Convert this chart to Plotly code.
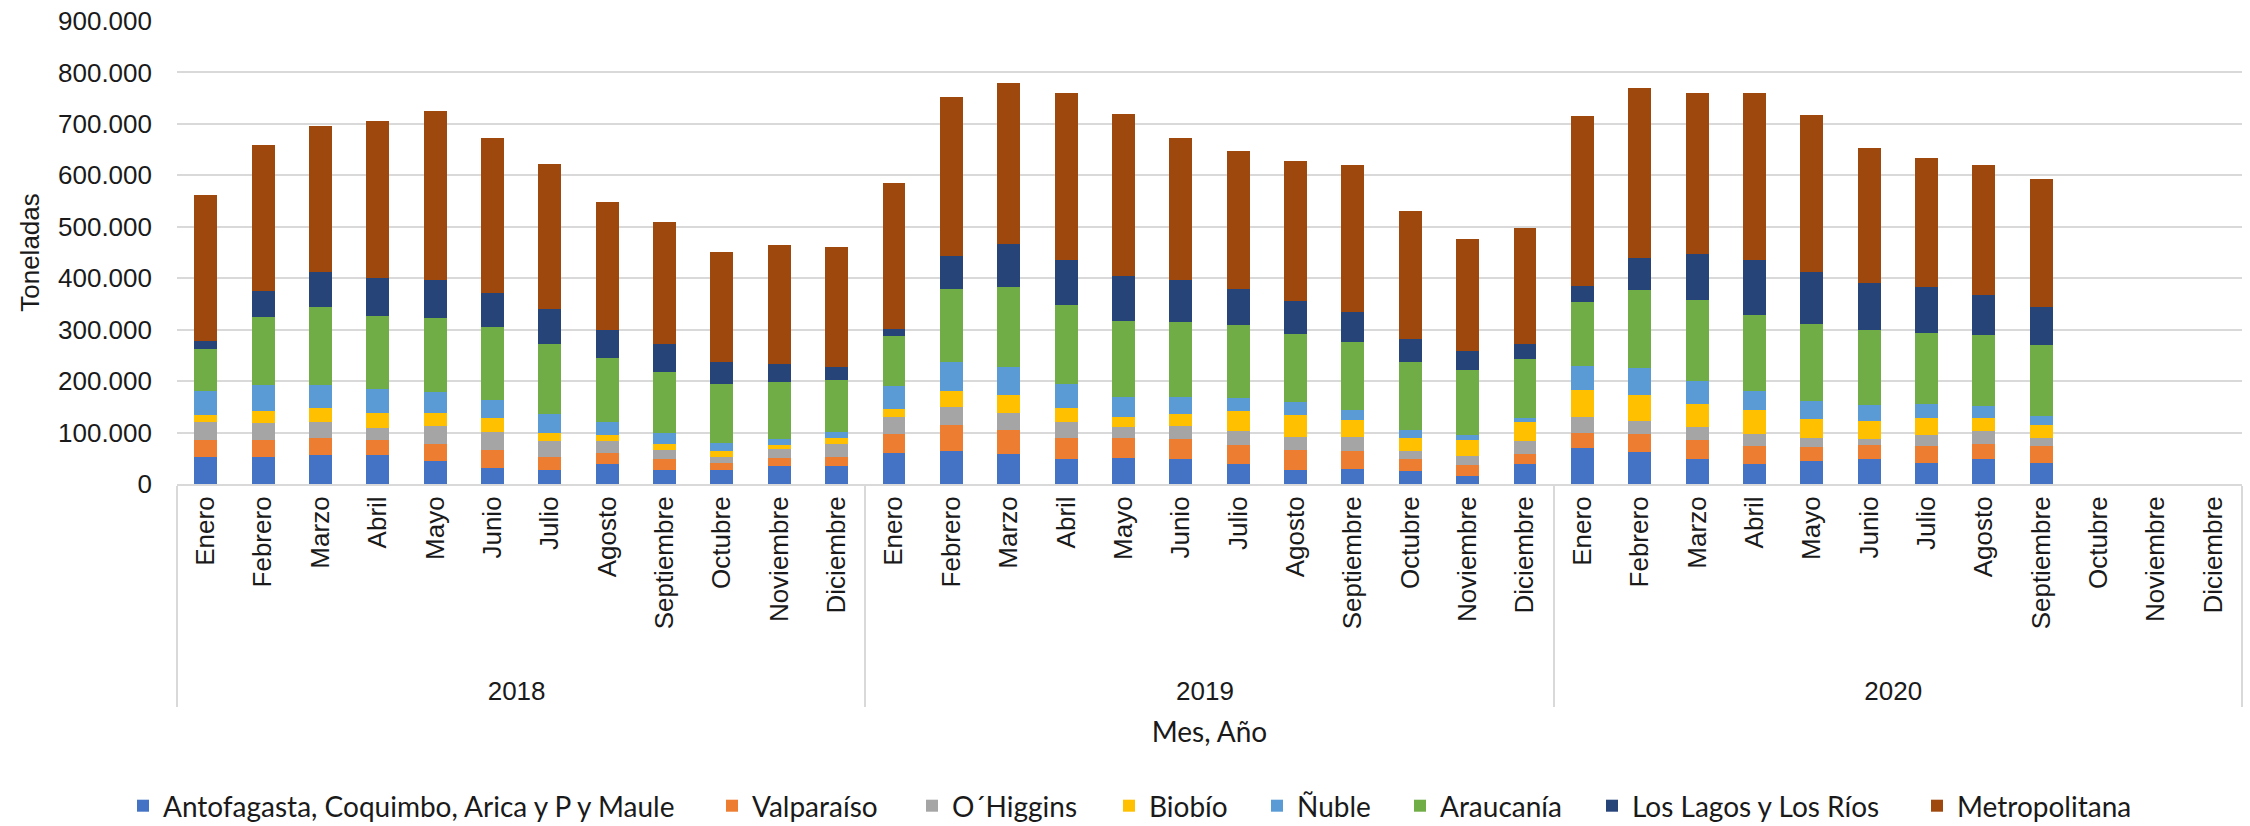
import plotly.graph_objects as go

years = ["2018"] * 12 + ["2019"] * 12 + ["2020"] * 12
months = ["Enero", "Febrero", "Marzo", "Abril", "Mayo", "Junio", "Julio", "Agosto",
          "Septiembre", "Octubre", "Noviembre", "Diciembre"] * 3

antofagasta = [53000, 53000, 56000, 56000, 45000, 32000, 28000, 38000, 28000, 28000, 35000, 35000,
               60000, 65000, 58000, 48000, 51000, 48000, 38000, 28000, 30000, 25000, 16000, 38000,
               70000, 63000, 48000, 38000, 45000, 48000, 40000, 48000, 40000, None, None, None]
valparaiso = [33000, 33000, 34000, 30000, 33000, 35000, 25000, 22000, 20000, 12000, 16000, 18000,
              38000, 50000, 47000, 42000, 39000, 40000, 37000, 38000, 35000, 23000, 20000, 20000,
              30000, 35000, 38000, 35000, 27000, 27000, 33000, 30000, 33000, None, None, None]
ohiggins = [34000, 32000, 30000, 22000, 35000, 35000, 30000, 23000, 19000, 13000, 17000, 25000,
            32000, 35000, 33000, 30000, 20000, 25000, 28000, 25000, 27000, 17000, 19000, 25000,
            30000, 25000, 24000, 25000, 17000, 12000, 22000, 25000, 17000, None, None, None]
biobio = [15000, 23000, 28000, 30000, 25000, 26000, 17000, 12000, 11000, 12000, 8000, 12000,
          15000, 30000, 35000, 28000, 20000, 23000, 38000, 43000, 32000, 25000, 31000, 37000,
          53000, 50000, 45000, 45000, 38000, 35000, 33000, 25000, 25000, None, None, None]
nuble = [45000, 52000, 44000, 47000, 40000, 35000, 36000, 25000, 22000, 15000, 12000, 12000,
         45000, 57000, 55000, 47000, 40000, 34000, 27000, 25000, 20000, 15000, 10000, 8000,
         47000, 52000, 45000, 37000, 35000, 32000, 27000, 23000, 18000, None, None, None]
araucania = [82000, 132000, 152000, 142000, 144000, 142000, 137000, 125000, 117000, 115000, 110000, 100000,
             97000, 142000, 154000, 152000, 147000, 145000, 142000, 132000, 132000, 132000, 125000, 115000,
             124000, 152000, 157000, 149000, 149000, 145000, 139000, 139000, 137000, None, None, None]
los_lagos = [16000, 50000, 68000, 74000, 75000, 67000, 67000, 55000, 55000, 42000, 35000, 26000,
             15000, 65000, 84000, 89000, 87000, 82000, 70000, 64000, 58000, 45000, 37000, 30000,
             31000, 62000, 90000, 107000, 102000, 92000, 88000, 77000, 74000, None, None, None]
metropolitana = [283000, 284000, 284000, 305000, 329000, 300000, 282000, 249000, 237000, 214000, 231000, 233000,
                 284000, 309000, 314000, 325000, 316000, 276000, 267000, 272000, 286000, 249000, 219000, 224000,
                 331000, 330000, 314000, 324000, 304000, 262000, 251000, 254000, 249000, None, None, None]

series_names = ["Antofagasta, Coquimbo, Arica y P y Maule", "Valparaíso", "O´Higgins", "Biobío",
                "Ñuble", "Araucanía", "Los Lagos y Los Ríos", "Metropolitana"]
series_values = [antofagasta, valparaiso, ohiggins, biobio, nuble, araucania, los_lagos, metropolitana]
colors = ["#4472C4", "#ED7D31", "#A5A5A5", "#FFC000", "#5B9BD5", "#70AD47", "#264478", "#9E480E"]

# left edge (px) of each legend entry's swatch in the 2250 px wide figure
legend_swatch_px = [136, 725, 925, 1122, 1270, 1413, 1605, 1930]

W, H = 2250, 826
arial = "Liberation Sans, Arial, sans-serif"
calibri = "Lato, Carlito, Calibri, sans-serif"
TXT = "#1a1a1a"

# invisible leading padding pushes the year row (and dividers) down like the original
month_labels = ["\u00a0\u00a0\u00a0" + m for m in months]

fig = go.Figure()
legend_layout = {}
for i, (name, vals, col) in enumerate(zip(series_names, series_values, colors)):
    lid = "legend" if i == 0 else f"legend{i + 1}"
    fig.add_trace(go.Bar(
        x=[years, month_labels], y=vals, name=name,
        marker=dict(color=col, line=dict(width=0)),
        legend=lid,
    ))
    legend_layout[lid] = dict(
        orientation="h", xref="container", yref="container",
        x=(legend_swatch_px[i] - 13) / W, xanchor="left",
        y=1 - 806 / H, yanchor="middle",
        font=dict(family=calibri, size=28, color=TXT),
        bgcolor="rgba(0,0,0,0)",
    )

fig.update_layout(
    width=W, height=H,
    barmode="stack", bargap=0.6,
    separators=",.",
    paper_bgcolor="white", plot_bgcolor="white",
    margin=dict(l=177, r=8, t=21, b=342, autoexpand=False),
    font=dict(family=arial, size=26, color=TXT),
    showlegend=True,
    xaxis=dict(
        type="multicategory", tickangle=-90, ticks="",
        tickfont=dict(family=arial, size=26, color=TXT),
        showdividers=True, dividercolor="#d9d9d9", dividerwidth=2,
        showline=True, linecolor="#d9d9d9", linewidth=2,
        showgrid=False, automargin=False,
        title=dict(text="Mes, Año", font=dict(family=calibri, size=28, color=TXT), standoff=18),
    ),
    yaxis=dict(
        range=[0, 900000], dtick=100000, tickformat=",.0f",
        showgrid=True, gridcolor="#d9d9d9", gridwidth=2,
        zeroline=False, showline=False, ticks="",
        ticklabelstandoff=24, automargin=False,
        tickfont=dict(family=arial, size=26, color=TXT),
        title=dict(text="Toneladas", font=dict(family=arial, size=26, color=TXT), standoff=10),
    ),
    **legend_layout,
)

fig.write_html(
    "out.html",
    config={"displayModeBar": False},
    post_script="document.body.style.margin='0';document.body.style.padding='0';"
                "document.documentElement.style.overflow='hidden';",
)
